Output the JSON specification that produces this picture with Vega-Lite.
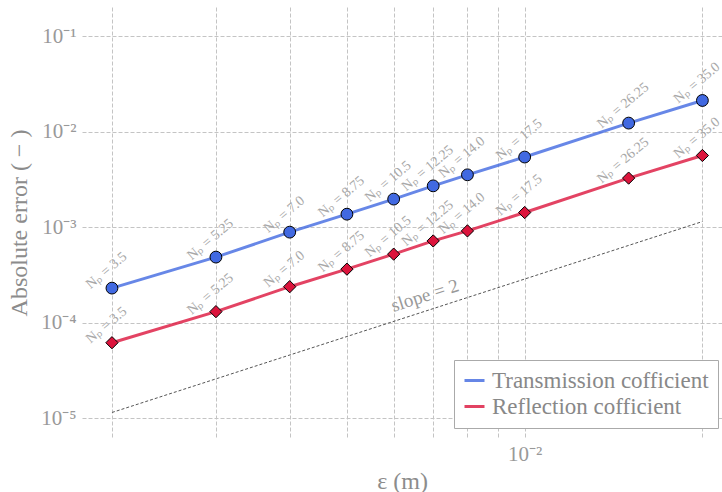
{
  "$schema": "https://vega.github.io/schema/vega-lite/v6.json",
  "autosize": "none",
  "padding": {"left": 82, "top": 7, "right": 0, "bottom": 54},
  "width": 640,
  "height": 431,
  "background": "white",
  "config": {
    "view": {"stroke": null},
    "font": "Liberation Serif",
    "axis": {
      "domain": false,
      "ticks": false,
      "grid": true,
      "gridColor": "#c4c4c4",
      "gridDash": [4, 2],
      "gridWidth": 1,
      "labelFont": "Liberation Serif",
      "labelColor": "#999999",
      "labelFontSize": 21,
      "titleFont": "Liberation Serif",
      "titleColor": "#8c8c8c",
      "titleFontSize": 24,
      "titleFontWeight": "normal"
    }
  },
  "datasets": {
    "main": [
      {"series": "Transmission cofficient", "eps": 0.002, "err": 0.000231, "label": "Nₚ = 3.5"},
      {"series": "Transmission cofficient", "eps": 0.003, "err": 0.000488, "label": "Nₚ = 5.25"},
      {"series": "Transmission cofficient", "eps": 0.004, "err": 0.000891, "label": "Nₚ = 7.0"},
      {"series": "Transmission cofficient", "eps": 0.005, "err": 0.001374, "label": "Nₚ = 8.75"},
      {"series": "Transmission cofficient", "eps": 0.006, "err": 0.001977, "label": "Nₚ = 10.5"},
      {"series": "Transmission cofficient", "eps": 0.007, "err": 0.00272, "label": "Nₚ = 12.25"},
      {"series": "Transmission cofficient", "eps": 0.008, "err": 0.00355, "label": "Nₚ = 14.0"},
      {"series": "Transmission cofficient", "eps": 0.01, "err": 0.00545, "label": "Nₚ = 17.5"},
      {"series": "Transmission cofficient", "eps": 0.015, "err": 0.01236, "label": "Nₚ = 26.25"},
      {"series": "Transmission cofficient", "eps": 0.02, "err": 0.02133, "label": "Nₚ = 35.0"},
      {"series": "Reflection cofficient", "eps": 0.002, "err": 0.0000619, "label": "Nₚ = 3.5"},
      {"series": "Reflection cofficient", "eps": 0.003, "err": 0.000131, "label": "Nₚ = 5.25"},
      {"series": "Reflection cofficient", "eps": 0.004, "err": 0.000239, "label": "Nₚ = 7.0"},
      {"series": "Reflection cofficient", "eps": 0.005, "err": 0.000365, "label": "Nₚ = 8.75"},
      {"series": "Reflection cofficient", "eps": 0.006, "err": 0.000524, "label": "Nₚ = 10.5"},
      {"series": "Reflection cofficient", "eps": 0.007, "err": 0.000721, "label": "Nₚ = 12.25"},
      {"series": "Reflection cofficient", "eps": 0.008, "err": 0.000918, "label": "Nₚ = 14.0"},
      {"series": "Reflection cofficient", "eps": 0.01, "err": 0.00143, "label": "Nₚ = 17.5"},
      {"series": "Reflection cofficient", "eps": 0.015, "err": 0.00328, "label": "Nₚ = 26.25"},
      {"series": "Reflection cofficient", "eps": 0.02, "err": 0.00566, "label": "Nₚ = 35.0"}
    ],
    "slope": [
      {"eps": 0.002, "err": 0.0000115},
      {"eps": 0.02, "err": 0.00115}
    ],
    "slopeLabel": [
      {"eps": 0.0069, "err": 0.0001369, "text": "slope = 2"}
    ]
  },
  "encoding": {
    "x": {
      "field": "eps",
      "type": "quantitative",
      "title": "ε (m)",
      "scale": {"type": "log", "domain": [0.0017795, 0.021588], "nice": false, "zero": false},
      "axis": {
        "values": [0.002, 0.003, 0.004, 0.005, 0.006, 0.007, 0.008, 0.009, 0.01, 0.02],
        "labelExpr": "datum.value > 0.0095 && datum.value < 0.0105 ? '10⁻²' : ''",
        "labelPadding": 5,
        "titlePadding": 5
      }
    },
    "y": {
      "field": "err",
      "type": "quantitative",
      "title": "Absolute error ( − )",
      "scale": {"type": "log", "domain": [0.000006217, 0.2033], "nice": false, "zero": false},
      "axis": {
        "values": [0.00001, 0.0001, 0.001, 0.01, 0.1],
        "labelExpr": "'10' + (datum.value > 0.05 ? '⁻¹' : datum.value > 0.005 ? '⁻²' : datum.value > 0.0005 ? '⁻³' : datum.value > 0.00005 ? '⁻⁴' : '⁻⁵')",
        "labelPadding": 6,
        "titlePadding": 9
      }
    }
  },
  "layer": [
    {
      "data": {"name": "slope"},
      "mark": {"type": "line", "color": "#555555", "strokeWidth": 1, "strokeDash": [3, 2]},
      "encoding": {}
    },
    {
      "data": {"name": "slopeLabel"},
      "mark": {"type": "text", "angle": -17.9, "align": "center", "baseline": "middle", "dy": -15, "fontSize": 19, "color": "#999999", "font": "Liberation Serif"},
      "encoding": {"text": {"field": "text"}}
    },
    {
      "data": {"name": "main"},
      "mark": {"type": "line", "strokeWidth": 3, "opacity": 0.8},
      "encoding": {
        "color": {
          "field": "series",
          "type": "nominal",
          "sort": null,
          "scale": {"domain": ["Transmission cofficient", "Reflection cofficient"], "range": ["#4169e1", "#dc143c"]},
          "legend": {
            "title": null,
            "orient": "none",
            "legendX": 372,
            "legendY": 353,
            "fillColor": "white",
            "strokeColor": "#aaaaaa",
            "padding": 9,
            "symbolType": "stroke",
            "symbolSize": 400,
            "symbolStrokeWidth": 3,
            "symbolOpacity": 0.8,
            "labelFont": "Liberation Serif",
            "labelFontSize": 23,
            "labelColor": "#888888",
            "labelLimit": 0,
            "rowPadding": 2,
            "labelOffset": 6
          }
        }
      }
    },
    {
      "data": {"name": "main"},
      "transform": [{"filter": "datum.series == 'Transmission cofficient'"}],
      "mark": {"type": "point", "shape": "circle", "filled": true, "fill": "#4169e1", "stroke": "black", "strokeWidth": 1, "opacity": 1, "size": 140},
      "encoding": {}
    },
    {
      "data": {"name": "main"},
      "transform": [{"filter": "datum.series == 'Reflection cofficient'"}],
      "mark": {"type": "point", "shape": "diamond", "filled": true, "fill": "#dc143c", "stroke": "black", "strokeWidth": 1, "opacity": 1, "size": 150},
      "encoding": {}
    },
    {
      "data": {"name": "main"},
      "mark": {"type": "text", "angle": -40, "align": "center", "baseline": "middle", "dx": 7, "dy": -17, "fontSize": 14, "color": "#a8a8a8", "font": "Liberation Serif"},
      "encoding": {"text": {"field": "label"}}
    }
  ]
}
